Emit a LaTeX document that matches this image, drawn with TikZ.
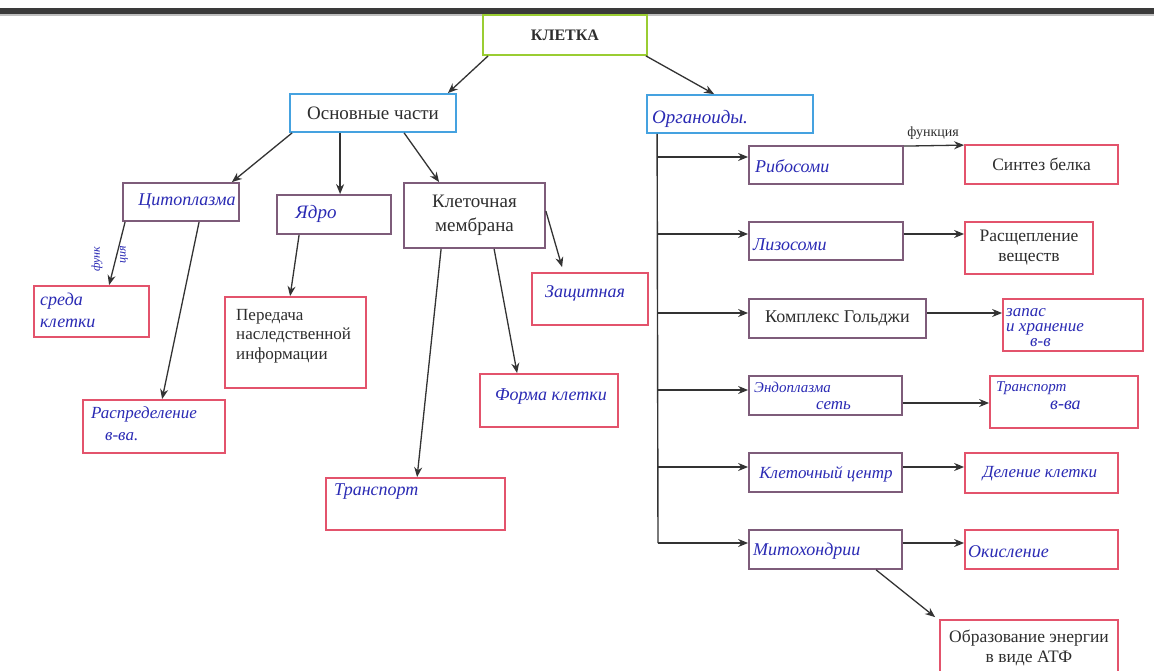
\documentclass[tikz,border=0pt]{standalone}
\usepackage{fontspec}
\setmainfont{Liberation Serif}
\usetikzlibrary{arrows.meta,calc}
\definecolor{cgreen}{HTML}{9ACD32}
\definecolor{cblue}{HTML}{45A2E0}
\definecolor{cpurp}{HTML}{7E5C7A}
\definecolor{cred}{HTML}{E3536C}
\definecolor{cline}{HTML}{333333}
\definecolor{cink}{HTML}{2A2AB4}
\definecolor{ctext}{HTML}{2E2E2E}
\definecolor{cbar}{HTML}{3A3A3A}
\begin{document}
\begin{tikzpicture}[x=1pt,y=-1pt,
  bx/.style={draw=#1, line width=1.8pt, rectangle, inner sep=0pt, fill=white, text=ctext, align=center},
  pt/.style 2 args={font=\fontsize{#1}{#2}\selectfont},
  hw/.style 2 args={text=cink, inner sep=0pt, align=left, font=\fontsize{#1}{#2}\selectfont\itshape},
  ln/.style={draw=cline, line width=1.4pt},
  arr/.style={draw=cline, line width=1.3pt, -{Stealth[length=10pt,width=8pt]}}
]
\useasboundingbox (0,0) rectangle (1154,671);
\fill[white] (0,0) rectangle (1154,671);
% top bar
\fill[cbar] (0,8) rectangle (1154,14);
\fill[black!25] (0,14) rectangle (1154,16);

% level 0 and 1
\node[bx=cgreen, minimum width=164pt, minimum height=40pt, font=\fontsize{16}{18}\selectfont\bfseries] (kl) at (565,35) {КЛЕТКА};
\node[bx=cblue, minimum width=166pt, minimum height=38pt, pt={19}{22}] (osn) at (373,113) {Основные части};
\node[bx=cblue, minimum width=166pt, minimum height=38pt] (org) at (730,114) {};
\node[hw={19}{21}, anchor=west] (orgT) at (652,119) {Органоиды.};

% left branch
\node[bx=cpurp, minimum width=116pt, minimum height=38pt] (cyt) at (181,202) {};
\node[hw={18}{20}] (cytT) at (187,201) {Цитоплазма};
\node[bx=cpurp, minimum width=114pt, minimum height=39pt] (yad) at (334,214.5) {};
\node[hw={19}{21}] (yadT) at (316,214) {Ядро};
\node[bx=cpurp, minimum width=141pt, minimum height=65pt, pt={19}{24}] (mem) at (474.5,215.5) {Клеточная\\мембрана};

\node[bx=cred, minimum width=115pt, minimum height=51pt] (sreda) at (91.5,311.5) {};
\node[hw={18}{22}, anchor=west] (sredaT) at (40,310) {среда\\клетки};
\node[bx=cred, minimum width=142pt, minimum height=53pt] (raspr) at (154,426.5) {};
\node[hw={17}{22}, anchor=west] (rasprT) at (91,424) {Распределение\\\hspace{14pt}в-ва.};
\node[bx=cred, minimum width=141pt, minimum height=91pt] (pered) at (295.5,342.5) {};
\node[pt={17}{19.5}, text=ctext, align=left, anchor=west, inner sep=0pt] (peredT) at (236,336) {Передача\\наследственной\\информации};
\node[bx=cred, minimum width=179pt, minimum height=52pt] (trans) at (415.5,504) {};
\node[hw={18}{20}, anchor=west] (transT) at (334,492) {Транспорт};
\node[bx=cred, minimum width=138pt, minimum height=53pt] (forma) at (549,400.5) {};
\node[hw={18}{20}] (formaT) at (551,397) {Форма клетки};
\node[bx=cred, minimum width=116pt, minimum height=52pt] (zasch) at (590,299) {};
\node[hw={18}{20}] (zaschT) at (585,293) {Защитная};

\draw[arr] ($(kl.south west)+(6,0)$) -- ($(osn.north east)+(-9,0)$);
\draw[arr] ($(kl.south east)+(-2,0)$) -- ($(org.north west)+(68,0)$);
\draw[arr] ($(osn.south west)+(3,0)$) -- ($(cyt.north east)+(-8,0)$);
\draw[arr] ($(osn.south west)+(51,0)$) -- ($(yad.north west)+(64,0)$);
\draw[arr] ($(osn.south west)+(115,0)$) -- ($(mem.north west)+(36,0)$);
\draw[arr] ($(cyt.south west)+(3,0)$) -- ($(sreda.north west)+(76,0)$);
\node[hw={12}{13}, rotate=90] (funk1) at (97,259) {функ};
\node[hw={12}{13}, rotate=90] (funk2) at (124,255) {ция};
\draw[arr] ($(cyt.south west)+(77,0)$) -- ($(raspr.north west)+(80,0)$);
\draw[arr] ($(yad.south west)+(23,0)$) -- ($(pered.north west)+(66,0)$);
\draw[arr] ($(mem.south west)+(38,0)$) -- ($(trans.north west)+(92,0)$);
\draw[arr] ($(mem.south west)+(91,0)$) -- ($(forma.north west)+(38,0)$);
\draw[arr] ($(mem.north east)+(0,29)$) -- ($(zasch.north west)+(31,-5)$);

% right branch: organoids
\node[bx=cpurp, minimum width=154pt, minimum height=38pt] (rib) at (826,165) {};
\node[hw={18}{20}, anchor=west] (ribT) at (755,166) {Рибосоми};
\node[bx=cpurp, minimum width=154pt, minimum height=38pt] (liz) at (826,241) {};
\node[hw={18}{20}, anchor=west] (lizT) at (753,245) {Лизосоми};
\node[bx=cpurp, minimum width=177pt, minimum height=39pt, pt={18}{20}] (gol) at (837.5,318.5) {Комплекс Гольджи};
\node[bx=cpurp, minimum width=153pt, minimum height=39pt] (endo) at (825.5,395.5) {};
\node[hw={15}{17}, anchor=west] (endoT) at (754,396) {Эндоплазма\\\hspace{62pt}\fontsize{17}{18}\selectfont сеть};
\node[bx=cpurp, minimum width=153pt, minimum height=39pt] (kc) at (825.5,472.5) {};
\node[hw={17}{19}] (kcT) at (826,474) {Клеточный центр};
\node[bx=cpurp, minimum width=153pt, minimum height=39pt] (mit) at (825.5,549.5) {};
\node[hw={18}{20}, anchor=west] (mitT) at (753,551) {Митохондрии};

% functions
\node[bx=cred, minimum width=153pt, minimum height=39pt, pt={17.5}{20}] (sint) at (1041.5,164.5) {Синтез белка};
\node[bx=cred, minimum width=128pt, minimum height=52pt, pt={17.5}{20}] (rasch) at (1029,248) {Расщепление\\веществ};
\node[bx=cred, minimum width=140pt, minimum height=52pt] (zapas) at (1073,325) {};
\node[hw={17}{15}, anchor=west] (zapasT) at (1006,328) {запас\\и хранение\\\hspace{24pt}в-в};
\node[bx=cred, minimum width=148pt, minimum height=52pt] (trv) at (1064,402) {};
\node[hw={15}{18}, anchor=west] (trvT) at (996,396) {Транспорт\\\hspace{54pt}\fontsize{18}{18}\selectfont в-ва};
\node[bx=cred, minimum width=153pt, minimum height=40pt] (del) at (1041.5,473) {};
\node[hw={17}{19}] (delT) at (1040,474) {Деление клетки};
\node[bx=cred, minimum width=153pt, minimum height=39pt] (oki) at (1041.5,549.5) {};
\node[hw={18}{20}, anchor=west] (okiT) at (968,552) {Окисление};
\node[bx=cred, minimum width=178pt, minimum height=64pt] (obr) at (1029,652) {};
\node[pt={17.5}{20}, text=ctext, align=center, inner sep=0pt] (obrT) at (1029,648) {Образование энергии\\в виде АТФ};

% trunk
\coordinate (t1) at (658,157);
\coordinate (t2) at (658,234);
\coordinate (t3) at (658,313);
\coordinate (t4) at (658,390);
\coordinate (t5) at (658,467);
\coordinate (t6) at (658,543);
\draw[ln] ($(org.south west)+(11,0)$) -- (t6);
\draw[arr] (t1) -- (t1 -| rib.west);
\draw[arr] (t2) -- (t2 -| liz.west);
\draw[arr] (t3) -- (t3 -| gol.west);
\draw[arr] (t4) -- (t4 -| endo.west);
\draw[arr] (t5) -- (t5 -| kc.west);
\draw[arr] (t6) -- (t6 -| mit.west);

% organoid -> function
\draw[arr] ($(rib.north east)+(0,1)$) -- ($(sint.north west)+(0,1)$);
\node[pt={14}{16}, text=ctext, inner sep=0pt] (fl) at (933,133) {функция};
\coordinate (r2) at (903,234);
\draw[arr] (liz.east |- r2) -- (rasch.west |- r2);
\coordinate (r3) at (926,313);
\draw[arr] (gol.east |- r3) -- (zapas.west |- r3);
\coordinate (r4) at (902,403);
\draw[arr] (endo.east |- r4) -- (trv.west |- r4);
\coordinate (r5) at (902,467);
\draw[arr] (kc.east |- r5) -- (del.west |- r5);
\coordinate (r6) at (902,543);
\draw[arr] (mit.east |- r6) -- (oki.west |- r6);
\draw[arr] ($(mit.south west)+(128,0)$) -- ($(obr.north west)+(-4,-2)$);
\end{tikzpicture}
\end{document}
